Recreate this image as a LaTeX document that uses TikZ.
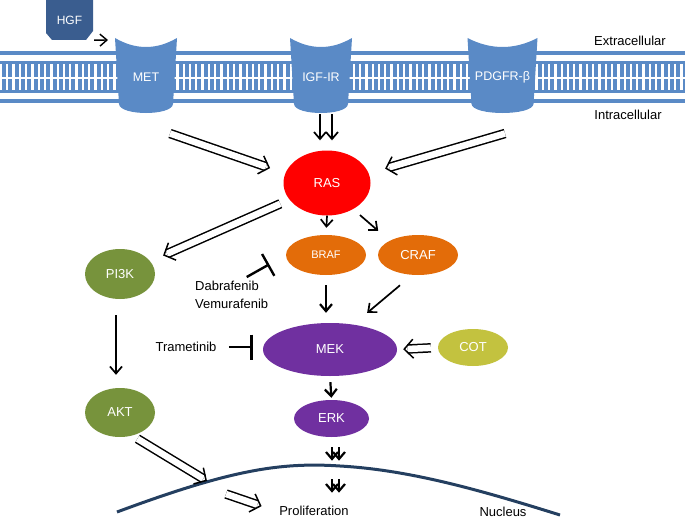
\documentclass[tikz,border=0pt]{standalone}
\usepackage{fontspec}
\setmainfont{Liberation Sans}
\usetikzlibrary{arrows.meta,shapes.geometric}
\definecolor{memblue}{HTML}{5A8AC6}
\definecolor{hgfblue}{HTML}{3A5D8F}
\definecolor{rasred}{HTML}{FF0000}
\definecolor{raforange}{HTML}{E36C09}
\definecolor{aktgreen}{HTML}{77933C}
\definecolor{mekpurple}{HTML}{7030A0}
\definecolor{cotyellow}{HTML}{C3C23F}
\definecolor{nucnavy}{HTML}{243F60}
\begin{document}
\begin{tikzpicture}
[
    x=1pt, y=-1pt,
    txt/.style={font=\fontsize{13}{18}\selectfont},
    mol/.style={ellipse, inner sep=0pt, text=white, font=\fontsize{13}{15}\selectfont},
    act/.style={-{Straight Barb[length=7pt,width=12pt]}, line width=1.7pt},
    dbl/.style={double, double distance=6.5pt, line width=1.5pt},
    dbltip/.style={-{Straight Barb[length=9pt,width=19pt]}, line width=1.5pt, dash pattern=on 0pt off 2000pt},
    inhib/.style={-{Bar[width=25pt]}, line width=2.4pt},
]
\useasboundingbox (0,0) rectangle (685,519);
\draw[memblue, line width=4pt] (0,53.5) -- (685,53.5);
\draw[memblue, line width=4pt] (0,100.5) -- (685,100.5);
\fill[memblue] (0,61) rectangle (685,93);
\foreach \x in {1,7.3,...,685}
    \draw[white, line width=2.3pt] (\x,64) -- (\x,90);
\draw[white, line width=2.5pt] (0,78) -- (685,78);
\foreach \cx/\hw/\nm/\lbl in {146/31/met/MET, 321/31/igf/IGF-IR, 502.5/35/pdgfr/PDGFR-β}
{
    \fill[memblue] (\cx-\hw,38) .. controls (\cx-\hw/3,50) and (\cx+\hw/3,50) .. (\cx+\hw,38)
        -- (\cx+\hw-4,104) .. controls (\cx+\hw-5,116) and (\cx-\hw+5,116) .. (\cx-\hw+4,104) -- cycle;
    \node[text=white, font=\fontsize{12.5}{14}\selectfont] (\nm) at (\cx,77) {\lbl};
}
\fill[hgfblue] (46,0) -- (93,0) -- (93,31) -- (86,40) -- (52,40) -- (46,33) -- cycle;
\node[text=white, font=\fontsize{12}{14}\selectfont, minimum width=47, minimum height=40] (hgf) at (69.5,20) {HGF};
\node[txt] (extra) at (630,41) {Extracellular};
\node[txt] (intra) at (628,115) {Intracellular};

\node[mol, fill=rasred, minimum width=87, minimum height=65] (ras) at (327,183) {RAS};
\node[mol, fill=raforange, minimum width=80, minimum height=40, font=\fontsize{11}{13}\selectfont] (braf) at (326,255) {BRAF};
\node[mol, fill=raforange, minimum width=80, minimum height=40] (craf) at (418,255) {CRAF};
\node[mol, fill=aktgreen, minimum width=70, minimum height=50] (pi3k) at (120,274) {PI3K};
\node[mol, fill=aktgreen, minimum width=70, minimum height=49] (akt) at (120,412.5) {AKT};
\node[mol, fill=mekpurple, minimum width=134, minimum height=53] (mek) at (330,349.5) {MEK};
\node[mol, fill=mekpurple, minimum width=75, minimum height=37] (erk) at (331.5,418.5) {ERK};
\node[mol, fill=cotyellow, minimum width=70, minimum height=37] (cot) at (473,347.5) {COT};
\node[txt, align=left, anchor=west, inner sep=0pt] (dab) at (195,295) {Dabrafenib\\Vemurafenib};
\node[txt] (tram) at (186,347) {Trametinib};
\node[txt] (prolif) at (314,511) {Proliferation};
\node[txt, inner sep=1pt] (nucleus) at (503,512) {Nucleus};

\draw[nucnavy, line width=3pt] (117,512) .. controls (230,470) and (280,462) .. (340,466)
    .. controls (410,470) and (480,490) .. (560,515);

\coordinate (met in) at (108,40);
\coordinate (met out) at (170,133.5);
\coordinate (pdgfr out) at (505,133.5);
\coordinate (igf out l) at (320,114);
\coordinate (igf out r) at (332,114);
\coordinate (akt tip) at (207,481);
\coordinate (nuc in) at (226,494);

\draw[act, line width=1.4pt, shorten <=1pt] (hgf.south east) -- (met in);
\foreach \a/\b/\s/\e/\ee in {met out/ras.167/0/16/20.5, pdgfr out/ras.13/0/17/21.5, ras.204/pi3k.23/10/14/18.5,
    cot.west/mek.east/7/6/10.5, akt.-62/akt tip/6/0/4.5, nuc in/prolif.west/0/15/19.5}
{
    \draw[dbl, shorten <=\s pt, shorten >=\ee pt] (\a) -- (\b);
    \draw[dbltip, shorten <=\s pt, shorten >=\e pt] (\a) -- (\b);
}
\draw[act, shorten >=10pt] (igf out l) -- (igf out l |- ras.north);
\draw[act, shorten >=10pt] (igf out r) -- (igf out r |- ras.north);
\draw[act, shorten >=7pt] (ras.south) -- (braf.north);
\draw[act, shorten <=9pt, shorten >=15pt] (ras.-45) -- (craf.north west);
\draw[inhib, shorten >=19pt] ([xshift=15pt,yshift=4pt]dab.north) -- (braf.west);
\draw[act, line width=2.2pt, shorten <=10pt, shorten >=10pt] (braf.south) -- (braf.south |- mek.north);
\draw[act, shorten <=16pt, shorten >=18pt] (craf.254) -- (mek.47);
\draw[inhib, shorten <=9pt, shorten >=10pt] (tram.east) -- (tram.east -| mek.west);
\draw[act, line width=2.2pt, shorten <=6pt, shorten >=2pt] (mek.south) -- (erk.north);
\draw[act, shorten <=16pt, shorten >=13pt] ([xshift=-4pt]pi3k.south) -- ([xshift=-4pt]akt.north);
\foreach \dx in {0.5,7.5}
{
    \draw[act, line width=2.2pt, shorten <=10pt, shorten >=42pt] ([xshift=\dx pt]erk.south) -- ([xshift=\dx pt]erk.south |- prolif.north);
    \draw[act, line width=2.2pt, shorten <=42pt, shorten >=10pt] ([xshift=\dx pt]erk.south) -- ([xshift=\dx pt]erk.south |- prolif.north);
}
\end{tikzpicture}
\end{document}
